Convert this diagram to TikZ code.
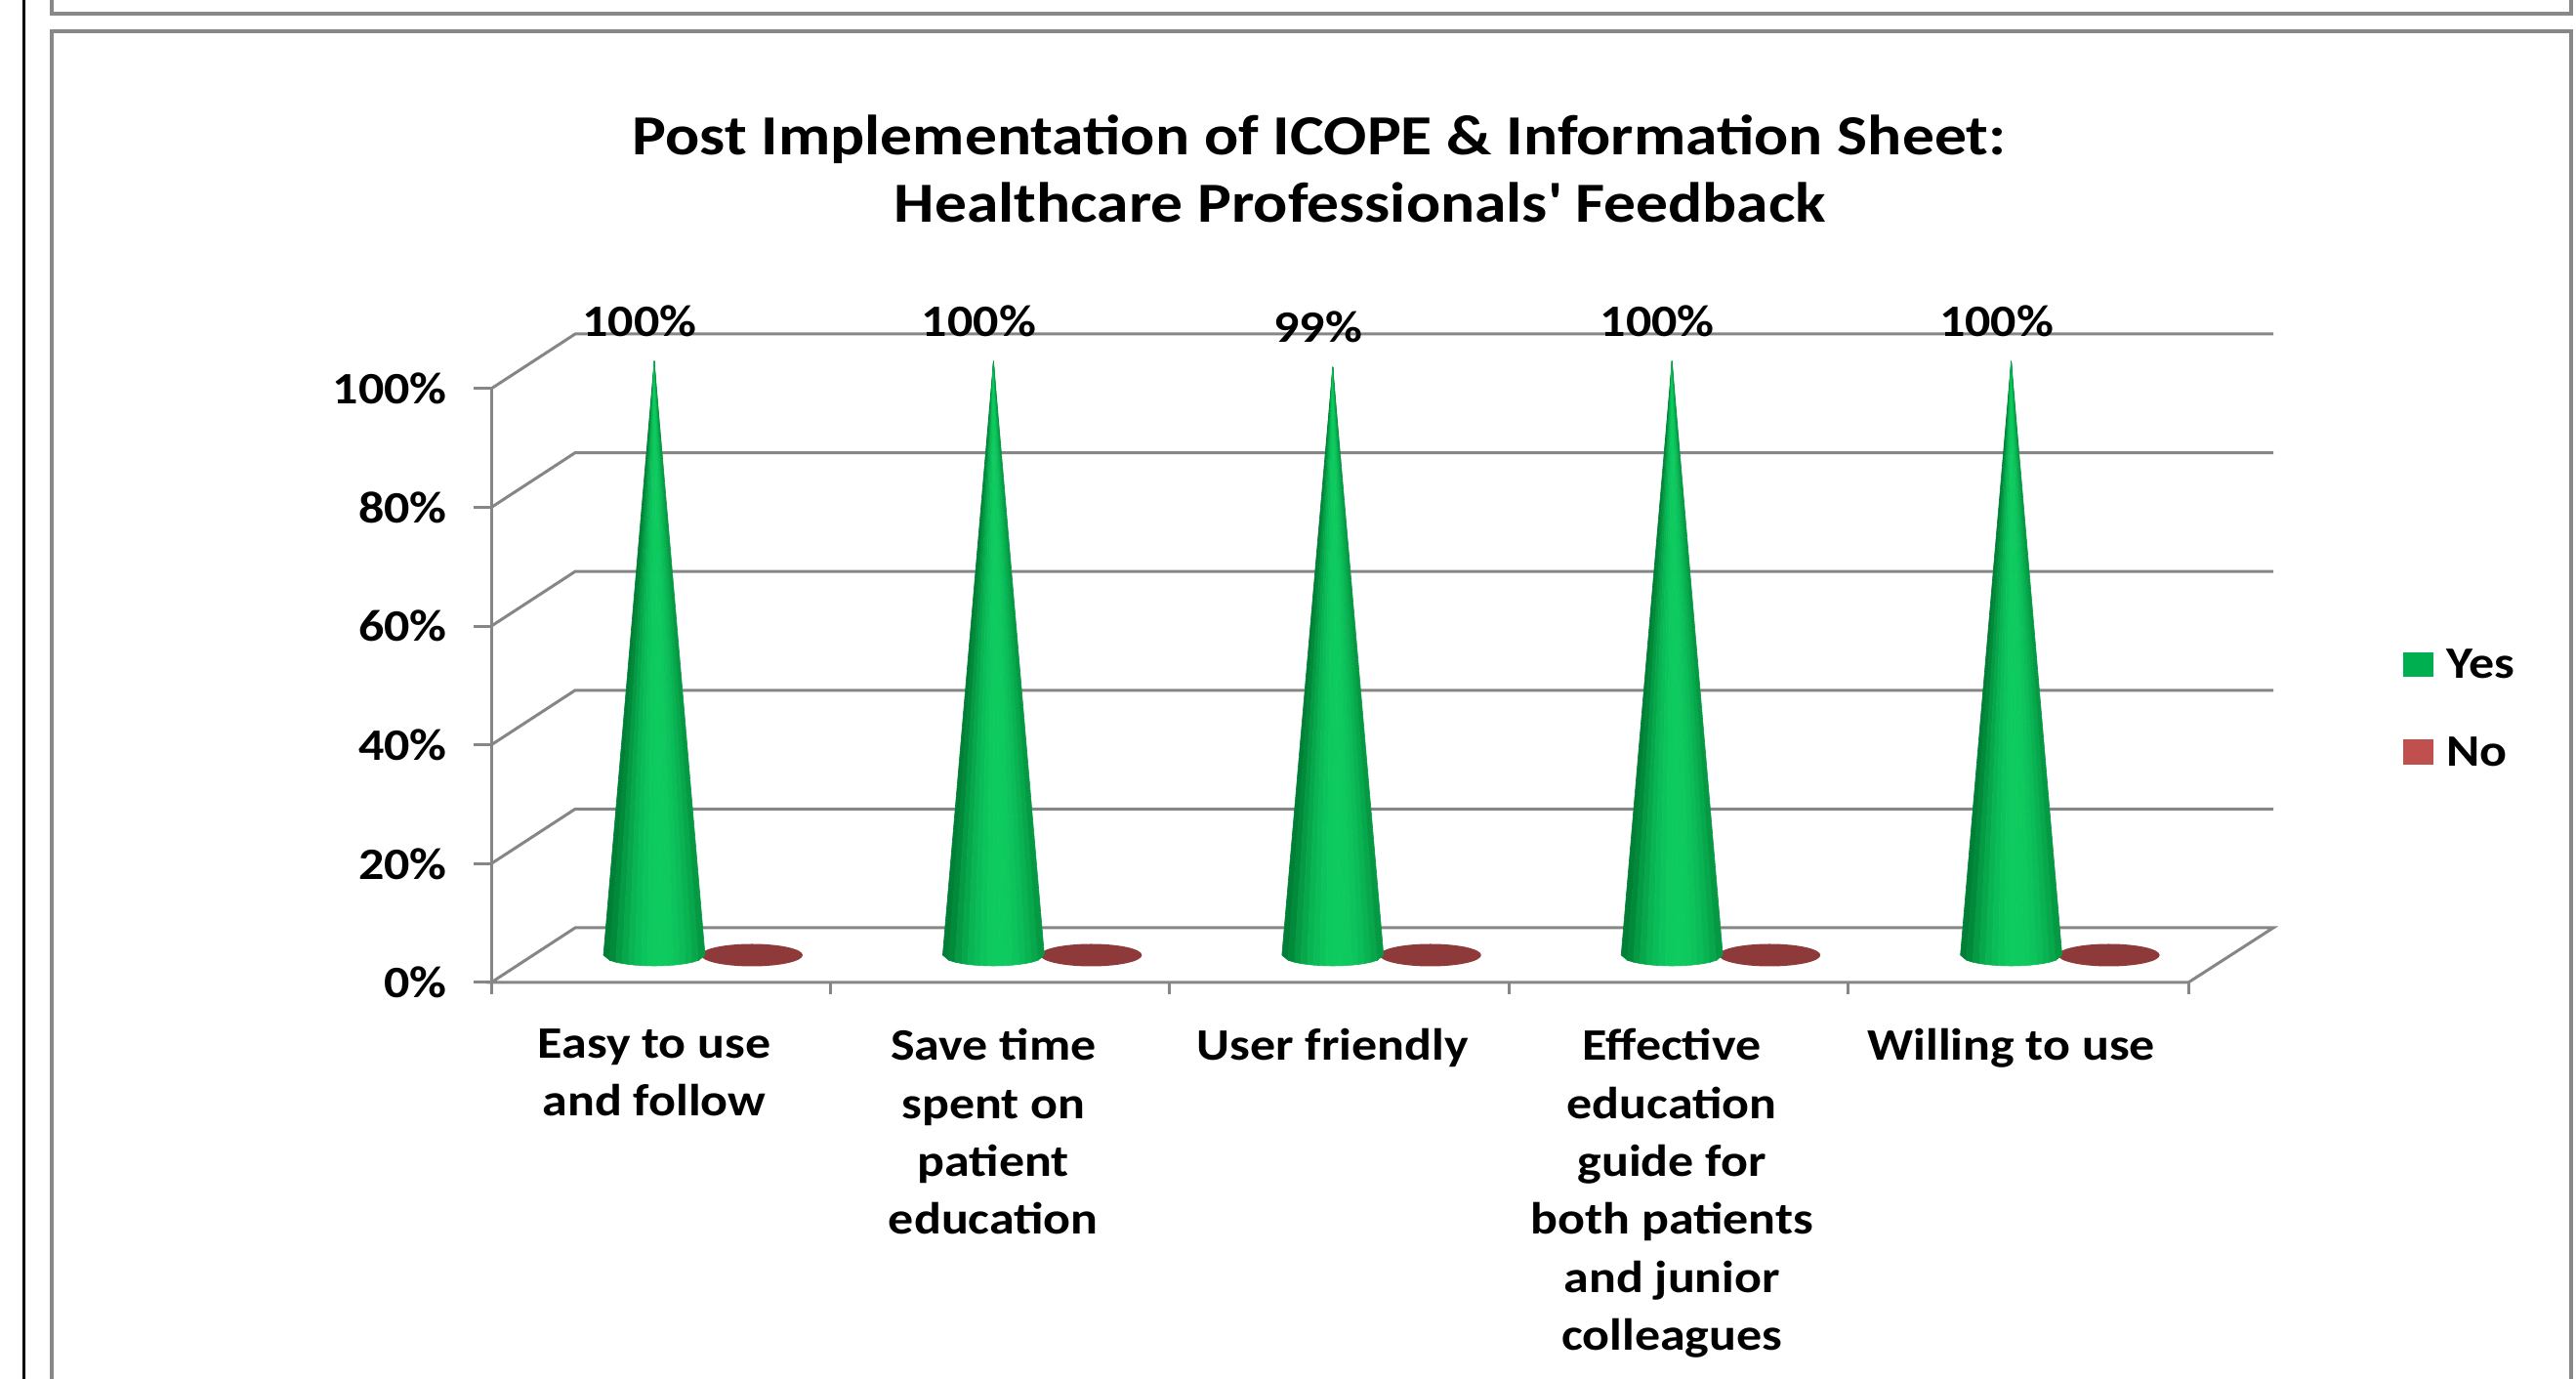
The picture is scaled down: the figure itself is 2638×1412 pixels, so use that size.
\documentclass[tikz,border=0pt]{standalone}
\usepackage{fontspec}
\setmainfont{Carlito}[FakeStretch=1.13]
\usepackage{xcolor}
\definecolor{framegray}{RGB}{136,136,136}
\definecolor{gridgray}{RGB}{134,134,134}
\definecolor{conedark}{RGB}{0,128,54}
\definecolor{conelight}{RGB}{14,204,96}
\definecolor{discred}{RGB}{142,58,58}
\definecolor{yesgreen}{RGB}{0,176,80}
\definecolor{nored}{RGB}{192,80,77}

% green cone: #1 = centre x, #2 = apex y (base at 434)
\newcommand{\yescone}[2]{%
  \foreach \i in {0,...,15}{%
    \pgfmathsetmacro{\ua}{-1+\i/8}%
    \pgfmathsetmacro{\ub}{-1+(\i+1)/8}%
    \pgfmathsetmacro{\xa}{#1+52*(\ua)}%
    \pgfmathsetmacro{\xb}{#1+52*(\ub)}%
    \pgfmathsetmacro{\ya}{434-11*sqrt(max(0,1-(\ua)*(\ua)))}%
    \pgfmathsetmacro{\yb}{434-11*sqrt(max(0,1-(\ub)*(\ub)))}%
    \pgfmathsetmacro{\mm}{(\ua+\ub)/2-0.12}%
    \pgfmathtruncatemacro{\sh}{max(0,100*(1-(\mm)*(\mm)))}%
    \fill[conelight!\sh!conedark,draw=conelight!\sh!conedark,line width=0.3pt]
      (#1,#2) -- (\xa,434) -- (\xa,\ya) -- (\xb,\yb) -- (\xb,434) -- cycle;
  }}

\begin{document}
\begin{tikzpicture}[x=0.5pt,y=0.5pt,
    frame/.style={framegray,line width=2pt},
    gridline/.style={gridgray,line width=1.5pt},
    disc/.style={fill=discred},
    title/.style={font=\fontsize{29}{35}\selectfont\bfseries,anchor=base,inner sep=0pt},
    val/.style={font=\fontsize{23}{28}\selectfont\bfseries,anchor=base,inner sep=0pt},
    ylab/.style={font=\fontsize{23}{28}\selectfont\bfseries,anchor=east,inner sep=0pt},
    cat/.style={font=\fontsize{23}{29.7}\selectfont\bfseries,anchor=north,align=center,inner sep=0pt},
    key/.style={font=\fontsize{23}{28}\selectfont\bfseries,anchor=base west,inner sep=0pt}]
    \useasboundingbox (0,0) rectangle (2638,1412);
    \clip (0,0) rectangle (2638,1412);

    \draw[black,line width=1.5pt] (24,0) -- (24,1412);
    \draw[frame] (53,1398) rectangle (2633,1440);
    \draw[frame] (53,-40) rectangle (2633,1380);

    \node[title] (title1) at (1351,1253) {Post Implementation of ICOPE \& Information Sheet:};
    \node[title] (title2) at (1393,1184) {Healthcare Professionals\textquotesingle{} Feedback};

    \draw[gridline] (503,406) -- (589,462) -- (2328,462) -- (2241,406) -- cycle;
    \draw[gridline] (503,527.6) -- (589,583.6) -- (2328,583.6);
    \draw[gridline] (503,649.2) -- (589,705.2) -- (2328,705.2);
    \draw[gridline] (503,770.8) -- (589,826.8) -- (2328,826.8);
    \draw[gridline] (503,892.4) -- (589,948.4) -- (2328,948.4);
    \draw[gridline] (503,1014) -- (589,1070) -- (2328,1070);
    \draw[gridline] (503,406) -- (503,1014);

    \draw[gridline] (485,406) -- (503,406);
    \draw[gridline] (485,527.6) -- (503,527.6);
    \draw[gridline] (485,649.2) -- (503,649.2);
    \draw[gridline] (485,770.8) -- (503,770.8);
    \draw[gridline] (485,892.4) -- (503,892.4);
    \draw[gridline] (485,1014) -- (503,1014);

    \draw[gridline] (503,406) -- (503,394);
    \draw[gridline] (850.4,406) -- (850.4,394);
    \draw[gridline] (1197.8,406) -- (1197.8,394);
    \draw[gridline] (1545.2,406) -- (1545.2,394);
    \draw[gridline] (1892.6,406) -- (1892.6,394);
    \draw[gridline] (2241,406) -- (2241,394);

    \node[ylab] (p0) at (458,406) {0\%};
    \node[ylab] (p20) at (458,527.6) {20\%};
    \node[ylab] (p40) at (458,649.2) {40\%};
    \node[ylab] (p60) at (458,770.8) {60\%};
    \node[ylab] (p80) at (458,892.4) {80\%};
    \node[ylab] (p100) at (458,1014) {100\%};

    \fill[disc] (770,434) ellipse [x radius=52, y radius=11.5];
    \fill[disc] (1117.4,434) ellipse [x radius=52, y radius=11.5];
    \fill[disc] (1464.8,434) ellipse [x radius=52, y radius=11.5];
    \fill[disc] (1812.2,434) ellipse [x radius=52, y radius=11.5];
    \fill[disc] (2159.6,434) ellipse [x radius=52, y radius=11.5];

    \yescone{670}{1042}
    \yescone{1017.4}{1042}
    \yescone{1364.8}{1036}
    \yescone{1712.2}{1042}
    \yescone{2059.6}{1042}

    \node[val] (v1) at (655,1067) {100\%};
    \node[val] (v2) at (1002.4,1067) {100\%};
    \node[val] (v3) at (1349.8,1061) {99\%};
    \node[val] (v4) at (1697.2,1067) {100\%};
    \node[val] (v5) at (2044.6,1067) {100\%};

    \node[cat] (c1) at (670,359) {Easy to use\\and follow};
    \node[cat] (c2) at (1017.4,359) {Save time\\spent on\\patient\\education};
    \node[cat] (c3) at (1364.8,359) {User friendly};
    \node[cat] (c4) at (1712.2,359) {Effective\\education\\guide for\\both patients\\and junior\\colleagues};
    \node[cat] (c5) at (2059.6,359) {Willing to use};

    \fill[yesgreen] (2461,719) rectangle (2492,744);
    \node[key] (yes) at (2505,717) {Yes};
    \fill[nored] (2461,629) rectangle (2492,655);
    \node[key] (no) at (2505,627) {No};
\end{tikzpicture}
\end{document}
